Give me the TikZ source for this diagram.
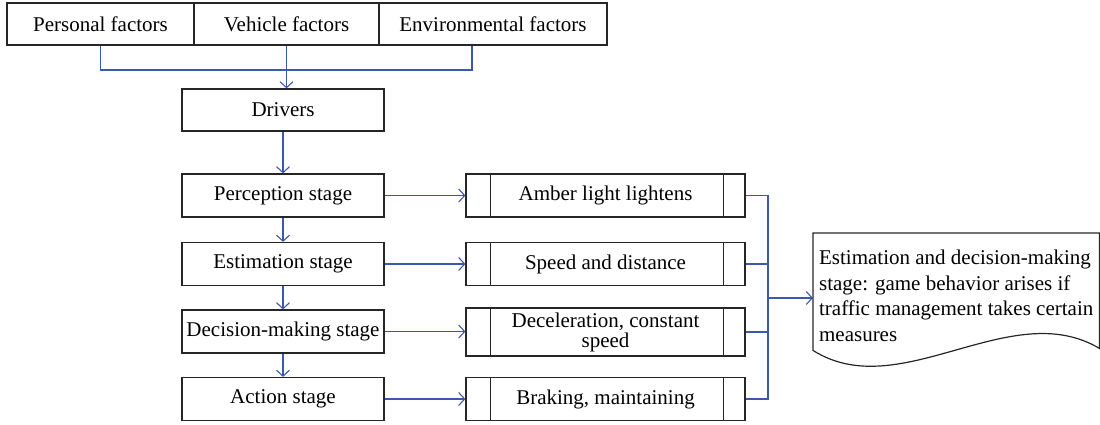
\documentclass[tikz,border=0pt]{standalone}
\usepackage{fontspec}
\setmainfont{Liberation Serif}
\usetikzlibrary{arrows.meta,calc}
\definecolor{lnblue}{RGB}{60,88,170}
\begin{document}
\begin{tikzpicture}[x=1pt,y=-1pt,
  txt/.style={font=\fontsize{21}{25.5}\selectfont},
  box/.style={txt,draw=black!85,line width=1.2pt,minimum height=42pt,inner sep=0pt},
  colbox/.style={box,minimum width=202pt,minimum height=43pt},
  pbox/.style={box,minimum width=279pt,minimum height=43pt},
  conn/.style={draw=lnblue,line width=1.1pt},
  arr/.style={conn,-{Straight Barb[length=6pt,width=13pt]}}
]
\useasboundingbox (0,0) rectangle (1100,424);

% top factor boxes
\node[box,minimum width=187pt] (pf) at (100.5,24) {Personal factors};
\node[box,minimum width=185pt] (vf) at (286.5,24) {Vehicle factors};
\node[box,minimum width=228pt] (ef) at (493,24) {Environmental factors};

% left column
\node[colbox,minimum height=42pt] (drv) at (283,110) {Drivers};
\node[colbox] (perc) at (283,195.5) {Perception stage};
\node[colbox] (est) at (283,264) {Estimation stage};
\node[colbox] (dec) at (283,331.5) {Decision-making stage};
\node[colbox] (act) at (283,399) {Action stage};

% right column (predefined process boxes)
\node[pbox] (amb) at (605.5,195.5) {Amber light lightens};
\node[pbox] (spd) at (605.5,264) {Speed and distance};
\node[pbox,minimum height=48pt,align=center] (dcl) at (605.5,332) {Deceleration, constant\\[-5.5pt]speed};
\node[pbox] (brk) at (605.5,399) {Braking, maintaining};
\foreach \n in {amb,spd,dcl,brk}{
  \draw[black!85,line width=1.2pt] ([xshift=25pt]\n.north west) -- ([xshift=25pt]\n.south west);
  \draw[black!85,line width=1.2pt] ([xshift=-22pt]\n.north east) -- ([xshift=-22pt]\n.south east);
}

% document shape
\node[txt,minimum width=286pt,minimum height=125pt,inner sep=0pt,align=left,anchor=north west] (doc) at (813,233)
  {Estimation and decision-making\\stage: game behavior arises if\\traffic management takes certain\\measures};
\draw[black!85,line width=1.2pt] ($(doc.south west)+(0,-8)$) -- (doc.north west) -- (doc.north east)
  -- ($(doc.south east)+(0,-10)$)
  .. controls ($(doc.south east)+(-89,-63)$) and ($(doc.south west)+(87,47)$) .. ($(doc.south west)+(0,-8)$) -- cycle;

% connectors: factors to drivers
\coordinate (mrg) at (286.5,70);
\draw[conn] (pf.south) -- (pf.south |- mrg) -- ([xshift=-21pt]ef.south |- mrg) -- ([xshift=-21pt]ef.south);
\draw[arr] (vf.south) -- (vf.south |- drv.north);

% column arrows
\draw[arr] (drv.south) -- (perc.north);
\draw[arr] (perc.south) -- (est.north);
\draw[arr] (est.south) -- (dec.north);
\draw[arr] (dec.south) -- (act.north);

% horizontal arrows
\draw[arr] (perc.east) -- (perc.east -| amb.west);
\draw[arr] (est.east) -- (est.east -| spd.west);
\draw[arr] (dec.east) -- (dec.east -| dcl.west);
\draw[arr] (act.east) -- (act.east -| brk.west);

% right bus
\coordinate (bus) at (768,298);
\draw[conn] (amb.east) -- (amb.east -| bus) -- (brk.east -| bus) -- (brk.east);
\draw[conn] (spd.east) -- (spd.east -| bus);
\draw[conn] (dcl.east) -- (dcl.east -| bus);
\draw[arr] (bus) -- (bus -| doc.west);
\end{tikzpicture}
\end{document}
